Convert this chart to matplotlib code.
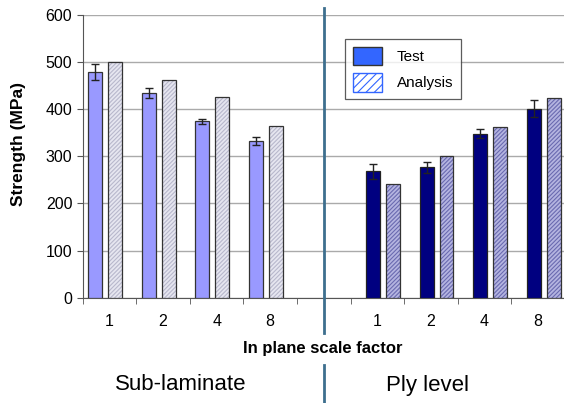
import numpy as np
import matplotlib.pyplot as plt
from matplotlib.patches import Patch

plt.rcParams['font.family'] = ['Liberation Sans', 'DejaVu Sans']
plt.rcParams['hatch.linewidth'] = 0.8

# categories: 4 sub-laminate sizes, an empty slot, 4 ply-level sizes
scale_labels = ["1", "2", "4", "8", "", "1", "2", "4", "8"]
sub_test = [479, 434, 374, 333]
sub_test_err = [16, 10, 5, 9]
sub_analysis = [500, 463, 425, 365]
ply_test = [268, 277, 348, 401]
ply_test_err = [16, 12, 9, 18]
ply_analysis = [242, 301, 363, 423]

fig = plt.figure(figsize=(5.64, 4.03), dpi=100)
ax = fig.add_axes([0.1466, 0.2613, 0.855, 0.7015])

x_sub = np.arange(4)
x_ply = np.arange(5, 9)
w = 0.26

def hatched(x, vals, face, hcol):
    ax.bar(x, vals, w, color=face, edgecolor=hcol, hatch="////////", linewidth=0, zorder=3)
    ax.bar(x, vals, w, color="none", edgecolor="#333333", linewidth=0.9, zorder=4)

ax.bar(x_sub - 0.27, sub_test, w, color="#9999ff", edgecolor="#333333", linewidth=0.9, zorder=3)
ax.errorbar(x_sub - 0.27, sub_test, yerr=sub_test_err, fmt="none", ecolor="#222222",
            elinewidth=1, capsize=3, zorder=5)
hatched(x_sub + 0.105, sub_analysis, "#e6e6f0", "#b8b8cc")

ax.bar(x_ply - 0.08, ply_test, w, color="#000080", edgecolor="#222222", linewidth=0.9, zorder=3)
ax.errorbar(x_ply - 0.08, ply_test, yerr=ply_test_err, fmt="none", ecolor="#222222",
            elinewidth=1, capsize=3, zorder=5)
hatched(x_ply + 0.29, ply_analysis, "#b4b4e0", "#6a6ab0")

ax.set_xlim(-0.5, 8.5)
ax.set_ylim(0, 600)
ax.set_yticks(range(0, 601, 100))
ax.yaxis.grid(True, color="#aaaaaa", linewidth=1, zorder=0)
ax.set_xticks(np.arange(9))
ax.set_xticklabels(scale_labels, fontsize=11.5)
ax.tick_params(axis="x", length=0, pad=12)
ax.set_xticks(np.arange(-0.5, 9, 1), minor=True)
ax.tick_params(axis="x", which="minor", length=4, color="#555555")
ax.tick_params(axis="y", labelsize=11.5, length=4, color="#555555")
for s in ["top", "right"]:
    ax.spines[s].set_visible(False)
for s in ["left", "bottom"]:
    ax.spines[s].set_color("#555555")
ax.set_ylabel("Strength (MPa)", fontsize=12.5, fontweight="bold", va="center")
ax.yaxis.set_label_coords(-0.134, 0.545)
ax.set_xlabel("In plane scale factor", fontsize=12, fontweight="bold", va="center")
ax.xaxis.set_label_coords(0.4985, -0.181)

# separator between the two groups
sep = "#3d6f8e"
fig.add_artist(plt.Line2D([324 / 564, 324 / 564], [1 - 8 / 403, 1 - 333 / 403], color=sep, lw=2))
fig.add_artist(plt.Line2D([324 / 564, 324 / 564], [1 - 365 / 403, 0], color=sep, lw=2))
fig.text(181 / 564, 1 - 385 / 403, "Sub-laminate", fontsize=16, ha="center", va="center")
fig.text(427 / 564, 1 - 385 / 403, "Ply level", fontsize=16, ha="center", va="center")

handles = [Patch(facecolor="#3366ff", edgecolor="#333333"),
           Patch(facecolor="white", edgecolor="#3366ff", hatch="////")]
leg = ax.legend(handles, ["Test", "Analysis"], loc="upper left", bbox_to_anchor=(0.544, 0.915),
                borderaxespad=0, fontsize=11, frameon=True, fancybox=False, edgecolor="#333333",
                handlelength=1.9, handleheight=1.5, borderpad=0.5, labelspacing=0.5,
                handletextpad=1.0)
leg.get_frame().set_linewidth(0.9)

fig.savefig("out.png", dpi=100)
